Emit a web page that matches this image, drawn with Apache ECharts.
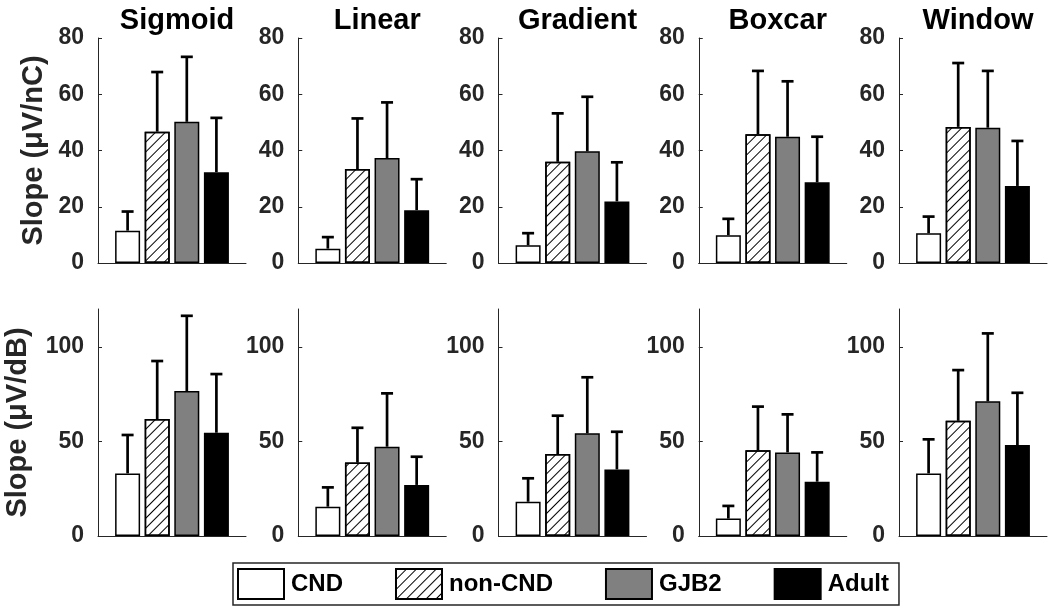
<!DOCTYPE html>
<html>
<head>
<meta charset="utf-8">
<script src="https://cdn.jsdelivr.net/npm/echarts@6/dist/echarts.min.js"></script>
<style>
  html, body { margin: 0; padding: 0; background: #fff; }
  #chart { width: 1050px; height: 611px; }
</style>
</head>
<body>
<div id="chart"></div>
<script>
// panel titles and groups
const methods = ['Sigmoid', 'Linear', 'Gradient', 'Boxcar', 'Window']
const groups = ['CND', 'non-CND', 'GJB2', 'Adult']

// top row: slope vs charge (uV/nC), mean and SD per method
const chargeMean = [
  [11.5, 46.7, 50.2, 32.3],
  [5.1, 33.4, 37.3, 18.8],
  [6.3, 36.0, 39.7, 21.9],
  [9.9, 45.8, 44.9, 28.7],
  [10.6, 48.4, 48.1, 27.4],
]
const chargeSD = [
  [6.8, 21.2, 23.1, 19.3],
  [4.1, 18.0, 19.8, 11.0],
  [4.3, 17.2, 19.4, 13.9],
  [5.8, 22.5, 19.7, 16.2],
  [5.9, 22.7, 20.2, 16.0],
]

// bottom row: slope vs level (uV/dB)
const levelMean = [
  [33.1, 61.8, 76.6, 54.6],
  [15.5, 38.8, 47.2, 27.0],
  [18.1, 43.3, 54.3, 35.2],
  [9.2, 45.3, 44.2, 28.7],
  [33.1, 60.9, 71.2, 48.1],
]
const levelSD = [
  [20.3, 30.7, 39.8, 31.0],
  [10.2, 18.4, 28.2, 14.9],
  [12.4, 20.3, 29.6, 19.9],
  [6.7, 23.1, 20.1, 15.5],
  [18.0, 26.8, 35.9, 27.6],
]

const chargeTicks = [0, 20, 40, 60, 80]
const levelTicks = [0, 50, 100]
const rowNames = ['Slope (μV/nC)', 'Slope (μV/dB)']

const font = "'Liberation Sans', Arial, sans-serif"
const textColor = '#262626'

// bar looks
const hatch = {
  symbol: 'rect',
  symbolSize: 1,
  color: '#000',
  dashArrayX: [1, 0],
  dashArrayY: [1, 6],
  rotation: -Math.PI / 4,
}
const barStyles = [
  { color: '#ffffff' },
  { color: '#ffffff', decal: hatch },
  { color: '#808080' },
  { color: '#000000' },
]

const rows = [
  { mean: chargeMean, sd: chargeSD, ticks: chargeTicks, max: 80, top: 38, height: 225, nameGap: 50 },
  { mean: levelMean, sd: levelSD, ticks: levelTicks, max: 120, top: 309, height: 227, nameGap: 66 },
]

const grid = []
const xAxis = []
const yAxis = []
const series = []
const title = []

rows.forEach((row, r) => {
  methods.forEach((method, c) => {
    const idx = r * methods.length + c
    const left = 98 + c * 200.25
    grid.push({ left: left, top: row.top, width: 148, height: row.height })

    if (r === 0) {
      title.push({
        text: method,
        left: left + 74,
        top: 1,
        textAlign: 'center',
        textStyle: { fontFamily: font, fontSize: 29, fontWeight: 'bold', color: '#000' },
      })
    }

    xAxis.push({
      type: 'value',
      gridIndex: idx,
      min: 0,
      max: 5,
      axisLine: { show: true, onZero: false, lineStyle: { color: textColor, width: 1 } },
      axisTick: { show: false },
      axisLabel: { show: false },
      splitLine: { show: false },
    })

    yAxis.push({
      type: 'value',
      gridIndex: idx,
      min: 0,
      max: row.max,
      name: c === 0 ? rowNames[r] : '',
      nameLocation: 'middle',
      nameGap: row.nameGap,
      nameTextStyle: { fontFamily: font, fontSize: 29, fontWeight: 'bold', color: textColor },
      axisLine: { show: true, lineStyle: { color: textColor, width: 1 } },
      axisTick: { show: true, inside: true, length: 4, customValues: row.ticks, lineStyle: { color: textColor } },
      axisLabel: {
        customValues: row.ticks,
        margin: 14,
        fontFamily: font,
        fontSize: 23,
        fontWeight: 'bold',
        color: textColor,
      },
      splitLine: { show: false },
    })

    groups.forEach((g, k) => {
      series.push({
        name: g,
        type: 'bar',
        xAxisIndex: idx,
        yAxisIndex: idx,
        barWidth: 25,
        barGap: '-100%',
        itemStyle: Object.assign({ borderColor: '#000', borderWidth: 1.5 }, barStyles[k]),
        emphasis: { disabled: true },
        data: [[k + 1, row.mean[c][k]]],
      })
    })

    // error bars, upper half only
    series.push({
      type: 'custom',
      xAxisIndex: idx,
      yAxisIndex: idx,
      z: 5,
      silent: true,
      encode: { x: 0, y: [1, 2] },
      data: groups.map((g, k) => [k + 1, row.mean[c][k], row.mean[c][k] + row.sd[c][k]]),
      renderItem: (params, api) => {
        const p0 = api.coord([api.value(0), api.value(1)])
        const p1 = api.coord([api.value(0), api.value(2)])
        const cap = 6
        const style = { stroke: '#000', lineWidth: 2.7 }
        return {
          type: 'group',
          children: [
            { type: 'line', shape: { x1: p0[0], y1: p0[1], x2: p1[0], y2: p1[1] }, style: style },
            { type: 'line', shape: { x1: p1[0] - cap, y1: p1[1], x2: p1[0] + cap, y2: p1[1] }, style: style },
          ],
        }
      },
    })
  })
})

const chart = echarts.init(document.getElementById('chart'), null, { renderer: 'canvas' })
chart.setOption({
  animation: false,
  backgroundColor: '#fff',
  title: title,
  legend: {
    data: groups,
    left: 233,
    top: 563,
    orient: 'horizontal',
    icon: 'rect',
    itemWidth: 46,
    itemHeight: 30,
    itemGap: 52,
    padding: [5, 10, 5, 4],
    borderColor: textColor,
    borderWidth: 1.5,
    selectedMode: false,
    textStyle: { fontFamily: font, fontSize: 24, fontWeight: 'bold', color: '#000', padding: [0, 0, 0, 2] },
  },
  grid: grid,
  xAxis: xAxis,
  yAxis: yAxis,
  series: series,
})
</script>
</body>
</html>
